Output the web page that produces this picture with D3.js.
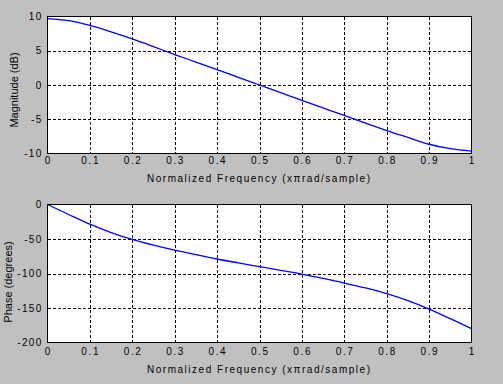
<!DOCTYPE html>
<html>
<head>
<meta charset="utf-8">
<script src="https://cdn.jsdelivr.net/npm/d3@7"></script>
<style>
  html, body { margin: 0; padding: 0; background: #c0c0c0; }
  svg { display: block; }
  text { font-family: "Liberation Sans", Arial, sans-serif; fill: #000; }
</style>
</head>
<body>
<svg id="chart" width="503" height="384"></svg>
<script>
// Normalized frequency (x pi rad/sample)
const freq = [0, 0.05, 0.1, 0.15, 0.2, 0.25, 0.3, 0.35, 0.4, 0.45, 0.5,
              0.55, 0.6, 0.65, 0.7, 0.75, 0.8, 0.85, 0.9, 0.95, 1.0];
// Magnitude (dB)
const magnitude = [9.7, 9.4, 8.7, 7.75, 6.72, 5.6, 4.45, 3.35, 2.25, 1.12, 0.0,
                   -1.12, -2.25, -3.35, -4.45, -5.58, -6.65, -7.65, -8.65, -9.3, -9.65];
// Phase (degrees)
const phase = [0, -14.5, -28.5, -40.6, -50.7, -59, -66.2, -72.8, -79, -84.6, -90,
               -95.4, -101, -107.2, -113.8, -121, -129.3, -139.4, -151.5, -165.5, -180];
const xTicks = [0, 0.1, 0.2, 0.3, 0.4, 0.5, 0.6, 0.7, 0.8, 0.9, 1];
const magTicks = [-10, -5, 0, 5, 10];
const phaseTicks = [-200, -150, -100, -50, 0];
const xLabel = "Normalized Frequency  (x\u03C0rad/sample)";
const magLabel = "Magnitude (dB)";
const phaseLabel = "Phase (degrees)";

const svg = d3.select("#chart");
svg.append("rect").attr("width", 503).attr("height", 384).attr("fill", "#c0c0c0");

const x = d3.scaleLinear().domain([0, 1]).range([47.5, 471.5]);

function panel(top, bottom, yDomain, yTicks, values, yLab, yLabX, yLabY, tickBase, xLabBase) {
  const y = d3.scaleLinear().domain(yDomain).range([bottom, top]);
  const g = svg.append("g");
  g.append("rect")
    .attr("x", x(0)).attr("y", top)
    .attr("width", x(1) - x(0)).attr("height", bottom - top)
    .attr("fill", "#fff");
  // grid
  g.selectAll(".vg").data(xTicks.slice(1, -1)).join("line")
    .attr("x1", d => Math.round(x(d)) + 0.5).attr("x2", d => Math.round(x(d)) + 0.5)
    .attr("y1", top).attr("y2", bottom)
    .attr("stroke", "#000").attr("stroke-dasharray", "3,2")
    .attr("shape-rendering", "crispEdges");
  g.selectAll(".hg").data(yTicks.slice(1, -1)).join("line")
    .attr("y1", d => Math.round(y(d)) + 0.5).attr("y2", d => Math.round(y(d)) + 0.5)
    .attr("x1", x(0)).attr("x2", x(1))
    .attr("stroke", "#000").attr("stroke-dasharray", "3,2")
    .attr("shape-rendering", "crispEdges");
  // curve
  const line = d3.line()
    .x((d, i) => x(freq[i]))
    .y(d => y(d))
    .curve(d3.curveMonotoneX);
  g.append("path").datum(values)
    .attr("d", line)
    .attr("fill", "none").attr("stroke", "#0000ff").attr("stroke-width", 1.3);
  // box
  g.append("rect")
    .attr("x", x(0)).attr("y", top)
    .attr("width", x(1) - x(0)).attr("height", bottom - top)
    .attr("fill", "none").attr("stroke", "#000").attr("stroke-width", 1.3)
    .attr("shape-rendering", "crispEdges");
  // x tick labels
  g.selectAll(".xt").data(xTicks).join("text")
    .attr("x", d => x(d) + 0.8).attr("y", tickBase)
    .attr("text-anchor", "middle")
    .attr("font-size", "10px").attr("letter-spacing", "1.6px")
    .text(d => d === 0 ? "0" : d === 1 ? "1" : d3.format(".1f")(d));
  // y tick labels
  g.selectAll(".yt").data(yTicks).join("text")
    .attr("x", 42.5).attr("y", d => y(d)).attr("dy", "0.35em")
    .attr("text-anchor", "end")
    .attr("font-size", "10px").attr("letter-spacing", "1.3px")
    .text(d => d);
  // x label
  g.append("text")
    .attr("x", 147).attr("y", xLabBase)
    .attr("font-size", "10px")
    .attr("textLength", 223).attr("lengthAdjust", "spacing")
    .text(xLabel);
  // y label
  g.append("text")
    .attr("transform", `translate(${yLabX},${yLabY}) rotate(-90)`)
    .attr("text-anchor", "middle")
    .attr("font-size", "11px")
    .text(yLab);
}

panel(16.5, 153.5, [-10, 10], magTicks, magnitude, magLabel, 18, 90, 164, 182);
panel(204.5, 342.5, [-200, 0], phaseTicks, phase, phaseLabel, 11.5, 282, 355, 373);
</script>
</body>
</html>
